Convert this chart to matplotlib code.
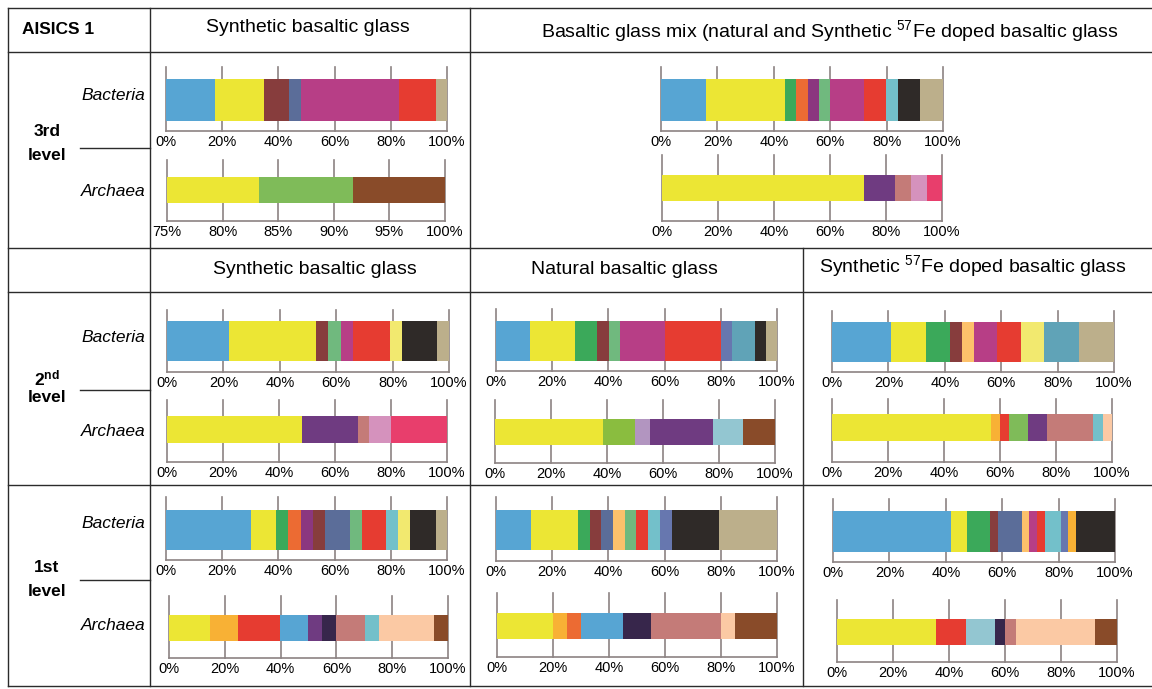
import matplotlib
matplotlib.use("Agg")
import matplotlib.pyplot as plt

W, H = 1152, 689

plt.rcParams['font.family'] = ['Liberation Sans', 'DejaVu Sans']
plt.rcParams['mathtext.fontset'] = 'custom'
plt.rcParams['mathtext.rm'] = 'Liberation Sans'
plt.rcParams['mathtext.bf'] = 'Liberation Sans:bold'
plt.rcParams['mathtext.it'] = 'Liberation Sans:italic'

C = {
    'blue': '#57a5d3', 'yellow': '#ece634', 'maroon': '#873d3d', 'slate': '#5b6d99',
    'magenta': '#b73e86', 'red': '#e63c31', 'tan': '#bcaf8b', 'green': '#7fbb59',
    'brown': '#894b29', 'dkgreen': '#3ba95a', 'orange': '#ec6b33', 'purple': '#8b377f',
    'ltgreen': '#70b97e', 'cyan': '#73c0ca', 'black': '#2f2a28', 'violet': '#6f3b81',
    'rose': '#c47b78', 'pink': '#d592bd', 'pinkred': '#e83e6c', 'ltyellow': '#f2e96f',
    'teal': '#60a3b7', 'lavender': '#b295c0', 'ltblue': '#93c6d1', 'lime': '#8abd3f',
    'ltorange': '#fdc16b', 'amber': '#f8b135', 'peach': '#fbc9a4', 'navy': '#37264b',
    'periwinkle': '#6777af',
}

# relative abundance (%) of each taxon, left to right
syn3_bac = [17.4, 17.6, 8.7, 4.3, 34.8, 13.2, 4.0]
syn3_arc = [83.3, 8.4, 8.3]
mix3_bac = [16.1, 28.0, 3.9, 4.0, 4.0, 3.9, 12.0, 8.0, 4.1, 8.0, 8.0]
mix3_arc = [72.3, 11.0, 5.6, 5.6, 5.5]
syn2_bac = [21.9, 30.8, 4.5, 4.4, 4.4, 13.0, 4.5, 12.2, 4.3]
syn2_arc = [48.1, 20.0, 3.9, 8.0, 20.0]
nat2_bac = [12.0, 16.2, 7.9, 4.0, 4.0, 16.0, 20.0, 4.0, 8.1, 3.9, 3.9]
nat2_arc = [38.7, 11.3, 5.5, 22.4, 10.8, 11.3]
fe2_bac = [20.8, 12.7, 8.2, 4.3, 4.2, 8.2, 8.5, 8.2, 12.4, 12.5]
fe2_arc = [56.7, 3.3, 3.3, 6.8, 6.7, 16.5, 3.4, 3.3]
syn1_bac = [30.3, 8.9, 4.2, 4.6, 4.3, 4.3, 8.8, 4.3, 8.5, 4.4, 4.4, 9.0, 4.0]
syn1_arc = [14.8, 10.0, 15.1, 10.0, 4.9, 5.0, 10.3, 5.0, 19.9, 5.0]
nat1_bac = [12.5, 16.7, 4.1, 4.2, 4.3, 4.0, 4.1, 4.3, 4.1, 4.2, 17.0, 20.5]
nat1_arc = [19.9, 5.0, 5.2, 14.9, 10.0, 25.1, 5.0, 14.9]
fe1_bac = [41.7, 5.7, 8.2, 2.8, 8.5, 2.5, 2.8, 2.9, 5.6, 2.6, 2.9, 13.8]
fe1_arc = [35.2, 10.8, 10.5, 3.5, 3.8, 28.2, 8.0]

# taxon colours for each bar
syn3_bac_c = ['blue', 'yellow', 'maroon', 'slate', 'magenta', 'red', 'tan']
syn3_arc_c = ['yellow', 'green', 'brown']
mix3_bac_c = ['blue', 'yellow', 'dkgreen', 'orange', 'purple', 'ltgreen', 'magenta', 'red', 'cyan', 'black', 'tan']
mix3_arc_c = ['yellow', 'violet', 'rose', 'pink', 'pinkred']
syn2_bac_c = ['blue', 'yellow', 'maroon', 'ltgreen', 'magenta', 'red', 'ltyellow', 'black', 'tan']
syn2_arc_c = ['yellow', 'violet', 'rose', 'pink', 'pinkred']
nat2_bac_c = ['blue', 'yellow', 'dkgreen', 'maroon', 'ltgreen', 'magenta', 'red', 'periwinkle', 'teal', 'black', 'tan']
nat2_arc_c = ['yellow', 'lime', 'lavender', 'violet', 'ltblue', 'brown']
fe2_bac_c = ['blue', 'yellow', 'dkgreen', 'maroon', 'ltorange', 'magenta', 'red', 'ltyellow', 'teal', 'tan']
fe2_arc_c = ['yellow', 'amber', 'red', 'green', 'violet', 'rose', 'cyan', 'peach']
syn1_bac_c = ['blue', 'yellow', 'dkgreen', 'orange', 'purple', 'maroon', 'slate', 'ltgreen', 'red', 'cyan', 'ltyellow', 'black', 'tan']
syn1_arc_c = ['yellow', 'amber', 'red', 'blue', 'violet', 'navy', 'rose', 'cyan', 'peach', 'brown']
nat1_bac_c = ['blue', 'yellow', 'dkgreen', 'maroon', 'slate', 'ltorange', 'ltgreen', 'red', 'cyan', 'periwinkle', 'black', 'tan']
nat1_arc_c = ['yellow', 'amber', 'orange', 'blue', 'navy', 'rose', 'peach', 'brown']
fe1_bac_c = ['blue', 'yellow', 'dkgreen', 'maroon', 'slate', 'ltorange', 'magenta', 'red', 'cyan', 'periwinkle', 'amber', 'black']
fe1_arc_c = ['yellow', 'red', 'ltblue', 'navy', 'rose', 'peach', 'brown']

fig = plt.figure(figsize=(W / 100, H / 100), dpi=100)

# background axes in pixel coordinates for the table frame and labels
bg = fig.add_axes([0, 0, 1, 1])
bg.set_xlim(0, W)
bg.set_ylim(H, 0)
bg.axis('off')

LC = '#2b2b2b'
for y in [8, 52, 248, 292, 485, 686]:
    bg.plot([8, W], [y, y], color=LC, lw=1.0)
for x in [8, 150, 470]:
    bg.plot([x, x], [8, 686], color=LC, lw=1.0)
bg.plot([803, 803], [248, 686], color=LC, lw=1.0)
for y in [148, 390, 580]:
    bg.plot([80, 150], [y, y], color=LC, lw=1.0)

bg.text(22, 29, 'AISICS 1', fontsize=12.5, fontweight='bold', va='center')
bg.text(308, 27, 'Synthetic basaltic glass', fontsize=14, ha='center', va='center')
bg.text(830, 31, 'Basaltic glass mix (natural and Synthetic $^{57}$Fe doped basaltic glass',
        fontsize=14, ha='center', va='center')
bg.text(315, 270, 'Synthetic basaltic glass', fontsize=14, ha='center', va='center')
bg.text(624, 270, 'Natural basaltic glass', fontsize=14, ha='center', va='center')
bg.text(973, 266, 'Synthetic $^{57}$Fe doped basaltic glass', fontsize=14, ha='center', va='center')

levels = [('3rd', 96, 192, 132, 156), ('2$^{\\bf nd}$', 338, 432, 378, 398), ('1st', 524, 625, 568, 592)]
for lab, yb, ya, y1, y2 in levels:
    bg.text(145, yb, 'Bacteria', fontsize=12.5, style='italic', ha='right', va='center')
    bg.text(145, ya, 'Archaea', fontsize=12.5, style='italic', ha='right', va='center')
    bg.text(47, y1, lab, fontsize=12.5, fontweight='bold', ha='center', va='center')
    bg.text(47, y2, 'level', fontsize=12.5, fontweight='bold', ha='center', va='center')

GC = '#8c8383'


def panel(vals, cols, x0, x1, top, spine, bt, bb, start=0, step=20):
    ax = fig.add_axes([x0 / W, 1 - spine / H, (x1 - x0) / W, (spine - top) / H])
    ax.patch.set_alpha(0)
    ax.set_xlim(start, 100)
    ax.set_ylim(spine, top)
    left = 0
    for v, c in zip(vals, cols):
        ax.barh((bt + bb) / 2, v, height=bb - bt, left=left, color=C[c], zorder=3)
        left += v
    ticks = list(range(start, 101, step))
    for t in ticks:
        ax.axvline(t, color=GC, lw=1.2, zorder=1, clip_on=False)
    for s in ['top', 'left', 'right']:
        ax.spines[s].set_visible(False)
    ax.spines['bottom'].set_color(GC)
    ax.spines['bottom'].set_linewidth(1.2)
    ax.set_yticks([])
    ax.set_xticks(ticks, [f'{t}%' for t in ticks], fontsize=10.5)
    ax.tick_params(axis='x', length=0, pad=3)
    return ax


panel(syn3_bac, syn3_bac_c, 166, 447, 67, 131, 79, 121)
panel(syn3_arc, syn3_arc_c, 167, 445, 160, 221, 177, 203, start=75, step=5)
panel(mix3_bac, mix3_bac_c, 661, 943, 67, 131, 79, 121)
panel(mix3_arc, mix3_arc_c, 662, 942, 155, 221, 175, 201)
panel(syn2_bac, syn2_bac_c, 167, 449, 310, 372, 321, 361)
panel(syn2_arc, syn2_arc_c, 167, 447, 400, 462, 416, 443)
panel(nat2_bac, nat2_bac_c, 496, 777, 309, 371, 321, 361)
panel(nat2_arc, nat2_arc_c, 495, 775, 400, 463, 419, 445)
panel(fe2_bac, fe2_bac_c, 832, 1114, 311, 372, 322, 362)
panel(fe2_arc, fe2_arc_c, 832, 1112, 399, 462, 414, 441)
panel(syn1_bac, syn1_bac_c, 166, 447, 497, 560, 510, 550)
panel(syn1_arc, syn1_arc_c, 169, 448, 596, 658, 615, 641)
panel(nat1_bac, nat1_bac_c, 496, 777, 497, 561, 510, 550)
panel(nat1_arc, nat1_arc_c, 497, 777, 593, 657, 613, 639)
panel(fe1_bac, fe1_bac_c, 833, 1115, 499, 562, 511, 552)
panel(fe1_arc, fe1_arc_c, 837, 1117, 600, 662, 619, 645)

fig.savefig('out.png', dpi=100)
